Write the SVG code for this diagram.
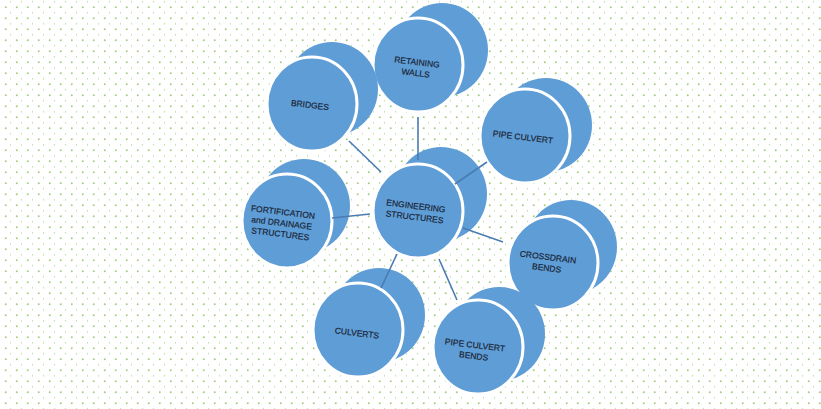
<svg xmlns="http://www.w3.org/2000/svg" width="821" height="409" viewBox="0 0 821 409">
<defs>
<pattern id="dots" x="0" y="0" width="11" height="11" patternUnits="userSpaceOnUse">
<rect x="10.4" y="0.9" width="1.7" height="1.7" fill="#9fcb78"/>
<rect x="4.9" y="6.4" width="1.7" height="1.7" fill="#9fcb78"/>
</pattern>
<style>
.back{fill:#5f9dd6;}
.front{fill:#5f9dd6;stroke:#ffffff;stroke-width:3;}
.lbl{font-family:"Liberation Sans","Open Sans",Arial,sans-serif;font-size:8.5px;fill:#17202e;stroke:#17202e;stroke-width:0.15;text-anchor:middle;}
.con{stroke:#4a7bb3;stroke-width:1.6;fill:none;}
</style>
</defs>
<rect width="821" height="409" fill="#ffffff"/>
<rect width="821" height="409" fill="url(#dots)"/>

<g id="retaining-walls">
<ellipse class="back" cx="442" cy="50" rx="46" ry="47"/>
<ellipse class="front" cx="418" cy="65" rx="45" ry="47"/>
<text class="lbl" transform="translate(417,62) rotate(7)"><tspan x="0" y="3">RETAINING</tspan><tspan x="0" y="14">WALLS</tspan></text>
</g>

<g id="bridges">
<ellipse class="back" cx="332" cy="89" rx="46" ry="47"/>
<ellipse class="front" cx="312" cy="104" rx="45" ry="47"/>
<text class="lbl" transform="translate(310,105) rotate(7)"><tspan x="0" y="3">BRIDGES</tspan></text>
</g>

<g id="pipe-culvert">
<ellipse class="back" cx="546" cy="125" rx="46" ry="47"/>
<ellipse class="front" cx="525" cy="136" rx="45" ry="47"/>
<text class="lbl" transform="translate(523,137) rotate(7)"><tspan x="0" y="3">PIPE CULVERT</tspan></text>
</g>

<g id="engineering-structures">
<ellipse class="back" cx="441" cy="194" rx="46" ry="47"/>
<ellipse class="front" cx="418" cy="211" rx="45" ry="47"/>
<text class="lbl" transform="translate(416,206) rotate(7)"><tspan x="0" y="3">ENGINEERING</tspan><tspan x="0" y="14">STRUCTURES</tspan></text>
</g>

<g id="fortification">
<ellipse class="back" cx="304" cy="206" rx="46" ry="47"/>
<ellipse class="front" cx="287" cy="221" rx="45" ry="47"/>
<text class="lbl" transform="translate(283,212) rotate(7)"><tspan x="0" y="3">FORTIFICATION</tspan><tspan x="0" y="14">and DRAINAGE</tspan><tspan x="0" y="25">STRUCTURES</tspan></text>
</g>

<g id="crossdrain-bends">
<ellipse class="back" cx="571" cy="247" rx="46" ry="47"/>
<ellipse class="front" cx="553" cy="263" rx="45" ry="47"/>
<text class="lbl" transform="translate(548,257) rotate(7)"><tspan x="0" y="3">CROSSDRAIN</tspan><tspan x="0" y="14">BENDS</tspan></text>
</g>

<g id="culverts">
<ellipse class="back" cx="379" cy="315" rx="46" ry="47"/>
<ellipse class="front" cx="358" cy="330" rx="45" ry="47"/>
<text class="lbl" transform="translate(357,333) rotate(7)"><tspan x="0" y="3">CULVERTS</tspan></text>
</g>

<g id="pipe-culvert-bends">
<ellipse class="back" cx="499" cy="334" rx="46" ry="47"/>
<ellipse class="front" cx="478" cy="347" rx="45" ry="47"/>
<text class="lbl" transform="translate(475,345) rotate(7)"><tspan x="0" y="3">PIPE CULVERT</tspan><tspan x="0" y="14">BENDS</tspan></text>
</g>

<g id="connectors">
<line class="con" x1="349" y1="141" x2="381" y2="172"/>
<line class="con" x1="418" y1="117" x2="418" y2="160"/>
<line class="con" x1="487" y1="162" x2="455" y2="184"/>
<line class="con" x1="332" y1="218" x2="370" y2="214"/>
<line class="con" x1="463" y1="228" x2="503" y2="242"/>
<line class="con" x1="397" y1="254" x2="381" y2="288"/>
<line class="con" x1="439" y1="259" x2="457" y2="300"/>
</g>
</svg>
